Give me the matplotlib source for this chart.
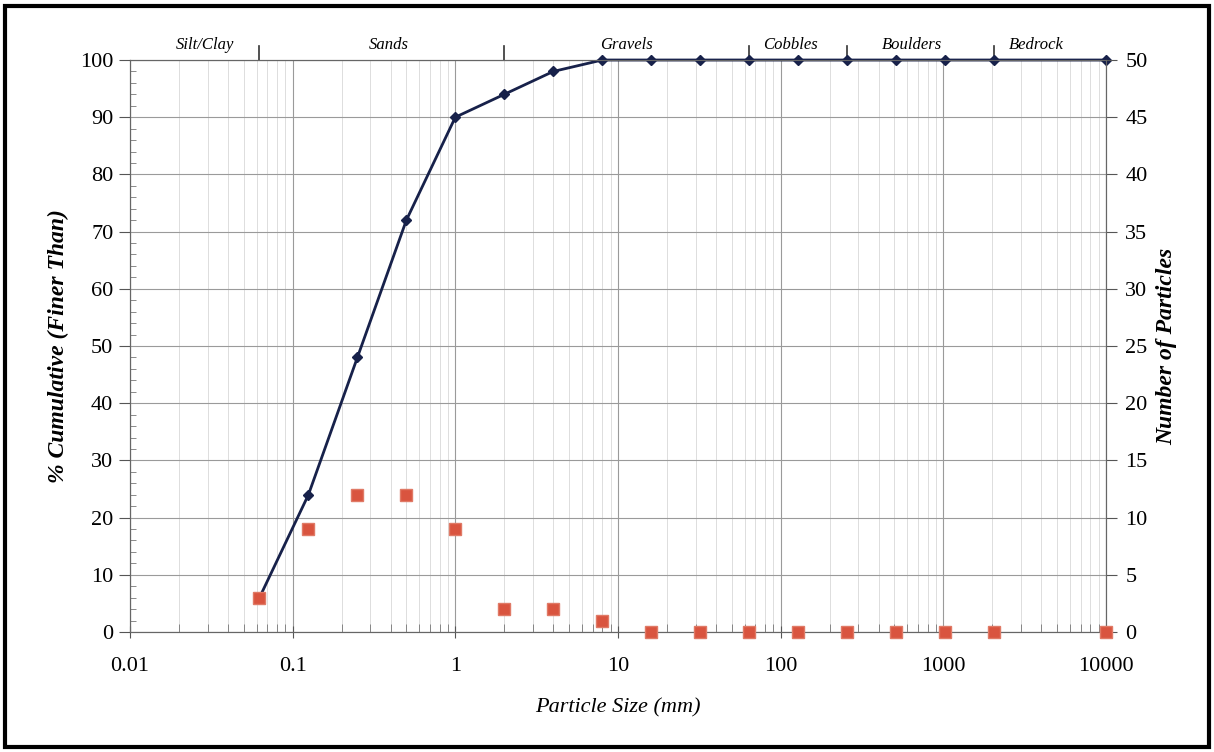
import numpy as np
import matplotlib.pyplot as plt
from matplotlib.patches import Rectangle
from matplotlib.ticker import FixedLocator, NullFormatter

# sieve sizes (mm) and results
sizes = [0.0625, 0.125, 0.25, 0.5, 1, 2, 4, 8, 16, 32, 64, 128, 256, 512, 1024, 2048, 10000]
pct_finer = [6, 24, 48, 72, 90, 94, 98, 100, 100, 100, 100, 100, 100, 100, 100, 100, 100]
n_particles = [3, 9, 12, 12, 9, 2, 2, 1, 0, 0, 0, 0, 0, 0, 0, 0, 0]

# size classes drawn above the plot
class_names = ["Silt/Clay", "Sands", "Gravels", "Cobbles", "Boulders", "Bedrock"]
class_label_x = [0.029, 0.39, 11.2, 115, 640, 3750]
class_bounds = [0.0625, 2, 64, 256, 2048]

x_ticks = [0.01, 0.1, 1, 10, 100, 1000, 10000]
x_tick_labels = ["0.01", "0.1", "1", "10", "100", "1000", "10000"]

plt.rcParams['font.family'] = ['Liberation Serif', 'DejaVu Serif']

fig = plt.figure(figsize=(12.14, 7.52), dpi=100)
ax = fig.add_axes([0.1071, 0.1596, 0.8039, 0.7606])
ax2 = ax.twinx()

ax.set_xscale('log')
ax.set_xlim(0.01, 10000)
ax.set_ylim(0, 100)
ax2.set_ylim(0, 50)

# grid
minor = [m * 10.0 ** e for e in range(-2, 4) for m in range(2, 10)]
ax.xaxis.set_major_locator(FixedLocator(x_ticks))
ax.xaxis.set_minor_locator(FixedLocator(minor))
ax.xaxis.set_minor_formatter(NullFormatter())
ax.set_xticklabels(x_tick_labels)
ax.set_yticks(np.arange(0, 101, 10))
ax.set_yticks(np.arange(0, 101, 2), minor=True)
ax2.set_yticks(np.arange(0, 51, 5))

ax.grid(True, which='major', axis='both', color='#9a9a9a', lw=0.8)
ax.grid(True, which='minor', axis='x', color='#d8d8d8', lw=0.6)
ax.set_axisbelow(True)

ax.tick_params(axis='x', which='major', direction='inout', length=8, labelsize=16,
               pad=14, color='#555555')
ax.tick_params(axis='x', which='minor', direction='in', length=6, color='#777777')
ax.tick_params(axis='y', which='major', direction='out', length=8, labelsize=16,
               pad=4, color='#555555')
ax.tick_params(axis='y', which='minor', direction='in', length=4, color='#777777')
ax2.tick_params(axis='y', which='major', direction='out', length=8, labelsize=16,
                pad=6, color='#555555')

for a in (ax, ax2):
    for s in a.spines.values():
        s.set_color('#666666')
        s.set_linewidth(0.8)

# cumulative curve
ax.plot(sizes, pct_finer, color='#17214a', lw=2, marker='D', ms=5.5, zorder=3,
        clip_on=False)
# particle counts
ax2.plot(sizes, n_particles, ls='none', marker='s', ms=8, color='#d9543f',
         markeredgecolor='#e07a66', zorder=4, clip_on=False)

ax.set_xlabel("Particle Size (mm)", fontsize=16, style='italic', labelpad=16)
ax.set_ylabel("% Cumulative (Finer Than)", fontsize=17, style='italic',
              fontweight='bold', labelpad=8)
ax2.set_ylabel("Number of Particles", fontsize=17, style='italic',
               fontweight='bold', labelpad=6)

# class boundary marks and names above the plot
trans = ax.get_xaxis_transform()
for b in class_bounds:
    ax.plot([b, b], [1.0, 1.025], color='#333333', lw=1.2, transform=trans,
            clip_on=False)
for name, xc in zip(class_names, class_label_x):
    ax.text(xc, 1.013, name, transform=trans, ha='center', va='bottom',
            fontsize=12, style='italic')

# frame around the figure
fig.patches.append(Rectangle((0.004, 0.006), 0.992, 0.986, transform=fig.transFigure,
                             fill=False, lw=3, edgecolor='black'))

fig.savefig("out.png", dpi=100)
